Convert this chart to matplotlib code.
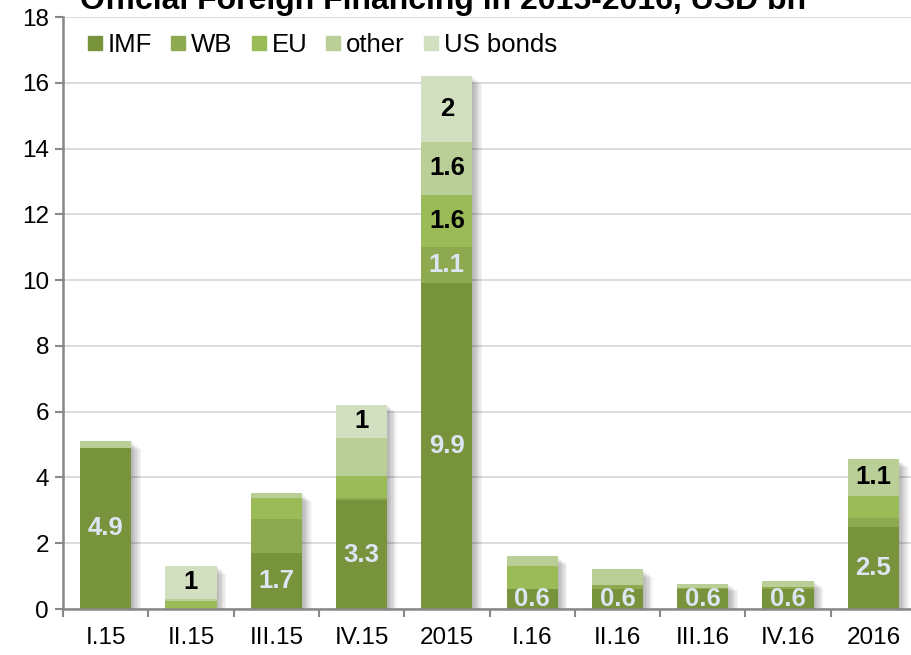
import matplotlib
matplotlib.use("Agg")
import matplotlib.pyplot as plt
import matplotlib.patheffects as pe
from matplotlib.lines import Line2D
import numpy as np

plt.rcParams['font.family'] = ['Liberation Sans', 'DejaVu Sans']

categories = ["I.15", "II.15", "III.15", "IV.15", "2015", "I.16", "II.16", "III.16", "IV.16", "2016"]
series_names = ["IMF", "WB", "EU", "other", "US bonds"]
imf = [4.9, 0.0, 1.7, 3.3, 9.9, 0.6, 0.6, 0.6, 0.6, 2.5]
wb = [0.0, 0.0, 1.03, 0.08, 1.1, 0.02, 0.13, 0.05, 0.06, 0.26]
eu = [0.0, 0.25, 0.66, 0.66, 1.6, 0.68, 0.0, 0.0, 0.0, 0.69]
other = [0.2, 0.06, 0.13, 1.17, 1.6, 0.3, 0.48, 0.12, 0.2, 1.1]
us_bonds = [0.0, 1.0, 0.0, 1.0, 2.0, 0.0, 0.0, 0.0, 0.0, 0.0]
# which segments carry a value label: (series index, category index)
labelled = [(0, 0), (4, 1), (0, 2), (0, 3), (4, 3),
            (0, 4), (1, 4), (2, 4), (3, 4), (4, 4),
            (0, 5), (0, 6), (0, 7), (0, 8), (0, 9), (3, 9)]
yticks = [0, 2, 4, 6, 8, 10, 12, 14, 16, 18]
title = "Official Foreign Financing in 2015-2016, USD bn"

colors = ["#77933C", "#8EAA50", "#9BBB59", "#B9CF97", "#D3DFC1"]
label_colors = ["#DCE6F2", "#DCE6F2", "black", "black", "black"]

series = [imf, wb, eu, other, us_bonds]

fig = plt.figure(figsize=(9.12, 6.55), dpi=100)
W, H = 912, 655
ax = fig.add_axes([63 / W, (H - 609) / H, 853 / W, 592 / H])

x = np.arange(len(categories))
width = 0.6
totals = np.sum(np.array(series), axis=0)

# soft shadow under the whole stack
shadow_fx = [pe.SimplePatchShadow(offset=(d, -d * 0.8), shadow_rgbFace="#000000", alpha=0.045)
             for d in (1, 2, 3, 4, 5, 6, 7)] + [pe.Normal()]
ax.bar(x, totals, width, color="white", zorder=2, linewidth=0, path_effects=shadow_fx)

bottom = np.zeros(len(categories))
for i, vals in enumerate(series):
    ax.bar(x, vals, width, bottom=bottom, color=colors[i], zorder=3, linewidth=0)
    bottom = bottom + np.array(vals)

cum = np.cumsum(np.array(series), axis=0)
for (si, ci) in labelled:
    v = series[si][ci]
    base = cum[si][ci] - v
    ax.text(x[ci], base + v / 2, f"{v:g}", ha="center", va="center",
            fontsize=18.5, fontweight="bold", color=label_colors[si], zorder=5)

ax.set_xlim(-0.5, len(categories) - 0.5)
ax.set_ylim(0, 18)
ax.set_yticks(yticks)
ax.set_xticks(x)
ax.set_xticklabels(categories)
ax.set_xticks(np.arange(len(categories) + 1) - 0.5, minor=True)
ax.tick_params(axis="x", which="major", length=0, labelsize=17.5, pad=13)
ax.tick_params(axis="x", which="minor", length=6, width=1.5, color="#888888")
ax.tick_params(axis="y", length=6, width=1.5, color="#888888", labelsize=17.5, pad=4)
ax.grid(axis="y", color="#D9D9D9", linewidth=1.3, zorder=0)
ax.set_axisbelow(True)
for s in ["top", "right"]:
    ax.spines[s].set_visible(False)
for s in ["left", "bottom"]:
    ax.spines[s].set_color("#888888")
    ax.spines[s].set_linewidth(1.8)
ax.spines["bottom"].set_zorder(6)

handles = [Line2D([], [], marker="s", linestyle="none", markersize=9.8,
                  markerfacecolor=c, markeredgecolor=c) for c in colors]
ax.legend(handles, series_names, loc="center left", bbox_to_anchor=(0.029, 0.953),
          ncol=5, frameon=False, fontsize=18.5, handlelength=0.55, handletextpad=0.22,
          columnspacing=0.75, borderpad=0, borderaxespad=0)

fig.text(443 / W, 1 - 9 / H, title, ha="center", va="baseline",
         fontsize=23, fontweight="bold")

fig.savefig("out.png", dpi=100)
